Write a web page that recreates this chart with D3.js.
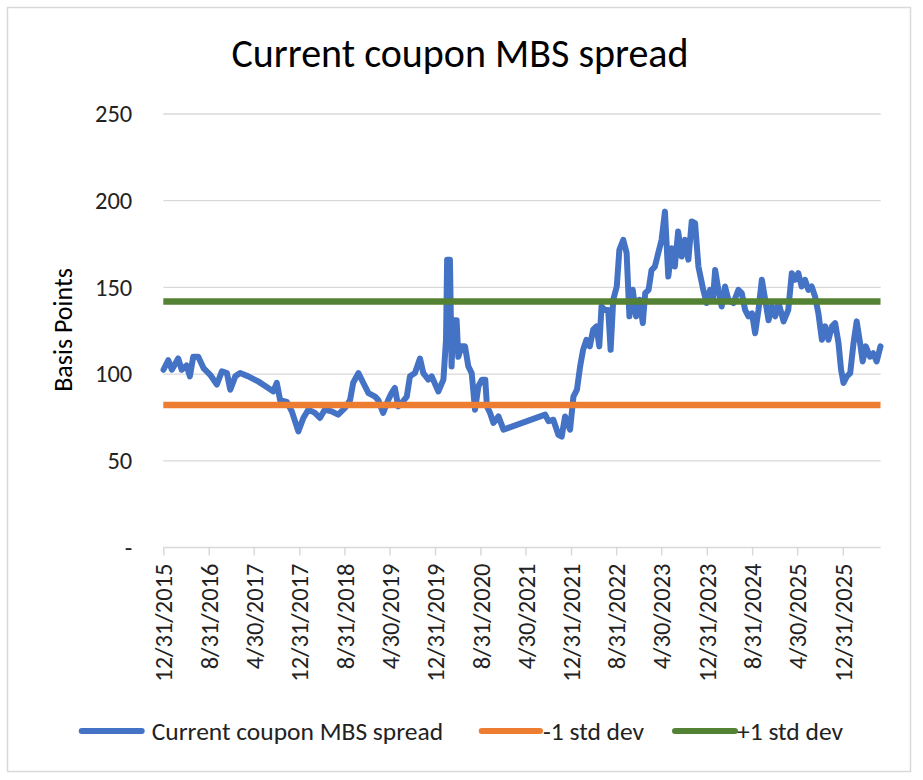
<!DOCTYPE html>
<html>
<head>
<meta charset="utf-8">
<script src="https://cdn.jsdelivr.net/npm/d3@7"></script>
<style>
  body { margin: 0; background: #fff; }
  text { font-family: Calibri, Lato, sans-serif; }
</style>
</head>
<body>
<svg id="chartSVG" width="923" height="780"></svg>
<script>
/**
 * Chart data
 */
const spreadDates = [
  "2016-01-01", "2016-01-27", "2016-02-15", "2016-03-20", "2016-04-08", "2016-05-04", "2016-05-22",
  "2016-06-09", "2016-07-06", "2016-08-03", "2016-09-08", "2016-10-14", "2016-11-10", "2016-12-07",
  "2016-12-25", "2017-01-21", "2017-02-16", "2017-04-01", "2017-05-24", "2017-07-17", "2017-08-14",
  "2017-09-01", "2017-09-19", "2017-10-25", "2017-11-21", "2017-12-26", "2018-01-22", "2018-02-18",
  "2018-03-25", "2018-04-21", "2018-05-17", "2018-06-23", "2018-07-28", "2018-09-03", "2018-09-30",
  "2018-10-17", "2018-11-14", "2018-12-10", "2019-01-07", "2019-02-12", "2019-03-01", "2019-03-27",
  "2019-04-23", "2019-05-11", "2019-05-29", "2019-06-16", "2019-07-04", "2019-08-01", "2019-08-18",
  "2019-09-14", "2019-10-11", "2019-10-29", "2019-11-25", "2019-12-13", "2020-01-18", "2020-02-14",
  "2020-02-28", "2020-03-05", "2020-03-20", "2020-03-29", "2020-04-07", "2020-04-25", "2020-05-04",
  "2020-05-22", "2020-06-09", "2020-06-27", "2020-07-15", "2020-08-02", "2020-08-20", "2020-09-08",
  "2020-09-26", "2020-10-05", "2020-10-22", "2020-11-09", "2020-12-06", "2021-01-02", "2021-08-14",
  "2021-09-01", "2021-09-27", "2021-10-24", "2021-11-11", "2021-11-29", "2021-12-26", "2022-01-13",
  "2022-02-01", "2022-02-18", "2022-03-06", "2022-03-24", "2022-04-11", "2022-04-29", "2022-05-17",
  "2022-06-01", "2022-06-13", "2022-07-01", "2022-07-19", "2022-08-01", "2022-08-15", "2022-09-03",
  "2022-09-17", "2022-10-08", "2022-10-26", "2022-11-10", "2022-11-28", "2022-12-16", "2023-01-03",
  "2023-01-21", "2023-02-03", "2023-02-21", "2023-03-09", "2023-03-27", "2023-04-14", "2023-05-02",
  "2023-05-20", "2023-06-07", "2023-06-25", "2023-07-12", "2023-07-30", "2023-08-18", "2023-09-05",
  "2023-09-23", "2023-10-11", "2023-10-29", "2023-11-16", "2023-12-12", "2023-12-30", "2024-01-18",
  "2024-02-02", "2024-02-14", "2024-03-02", "2024-03-20", "2024-04-07", "2024-04-25", "2024-05-22",
  "2024-06-18", "2024-07-06", "2024-07-24", "2024-08-11", "2024-08-30", "2024-09-16", "2024-10-04",
  "2024-10-22", "2024-11-09", "2024-11-27", "2024-12-15", "2025-01-02", "2025-01-20", "2025-02-16",
  "2025-03-13", "2025-04-01", "2025-04-18", "2025-05-06", "2025-05-24", "2025-06-11", "2025-06-29",
  "2025-07-17", "2025-08-04", "2025-08-22", "2025-09-10", "2025-09-28", "2025-10-15", "2025-11-03",
  "2025-11-20", "2025-12-08", "2025-12-22", "2026-01-04", "2026-01-22", "2026-02-09", "2026-02-27",
  "2026-03-16", "2026-04-03", "2026-04-17", "2026-05-04", "2026-05-26", "2026-06-13", "2026-07-01",
  "2026-07-22"
];
const spreadValues = [
  102.5, 108, 102.5, 109, 102.5, 105, 98.7,
  110, 110, 103.5, 99.6, 94, 101.6, 100.6,
  91, 98.7, 100.6, 98.7, 95.8, 92, 90,
  95, 85, 84, 78.5, 67, 74.7, 79.5,
  77.6, 74.7, 79.5, 78.5, 76.6, 80.5, 85,
  95, 100.6, 95, 89, 87, 85, 77.6,
  85, 89, 92, 81.4, 83.3, 87, 98.7,
  100.6, 109, 100.6, 96.8, 98.7, 90, 96.8,
  119.8, 166, 166, 104.4, 131, 131, 110,
  116, 116, 104.4, 100.6, 79.5, 93, 96.8,
  96.8, 81.4, 77.6, 71.8, 75.6, 68, 76.6,
  72.8, 73.7, 65, 64, 75.6, 68, 87,
  91, 104.4, 114, 119.8, 116, 125.6, 127.5,
  116, 139, 137, 137, 114, 142.9, 150.5,
  171.7, 177.4, 169.8, 133.3, 148.6, 133.3, 142.9,
  129.4, 146.7, 148.6, 160, 162, 169.8, 177.4,
  193.7, 156.3, 172.6, 162, 182.2, 167.8, 177.4,
  166, 188, 187, 162, 148.6, 141, 148.6,
  142.9, 160, 148.6, 139, 150.5, 142.9, 141,
  148.6, 146.7, 137, 133.3, 135, 123.6, 137,
  154.4, 142.9, 131, 139, 133.3, 141, 130.4,
  137, 158.2, 154.4, 158.2, 150.5, 154.4, 148.6,
  150.5, 144.8, 135, 119.8, 127.5, 119.8, 127.5,
  129.4, 118, 102.5, 94.9, 98.7, 100.6, 118,
  130.4, 118, 107.3, 116, 110, 112, 107.3,
  116
];
const minusOneStd = 82.2;
const plusOneStd = 141.8;

const yTickValues = [0, 50, 100, 150, 200, 250];
const xTickLabels = [
  "12/31/2015", "8/31/2016", "4/30/2017", "12/31/2017", "8/31/2018", "4/30/2019",
  "12/31/2019", "8/31/2020", "4/30/2021", "12/31/2021", "8/31/2022", "4/30/2023",
  "12/31/2023", "8/31/2024", "4/30/2025", "12/31/2025"
];
const axisStart = "2015-12-31";
const axisEnd = "2026-07-23";

const seriesNames = ["Current coupon MBS spread", "-1 std dev", "+1 std dev"];
const seriesColors = ["#4472C4", "#ED7D31", "#548235"];

/**
 * Layout
 */
const plot = { left: 163.3, right: 880.7, top: 114, bottom: 547.5 };
const tickFont = 24.5;
const parseDate = d3.timeParse("%Y-%m-%d");
const parseLabel = d3.timeParse("%m/%d/%Y");

const svg = d3.select("#chartSVG");

// outer border
svg.append("rect")
  .attr("x", 7.5).attr("y", 7.5)
  .attr("width", 903).attr("height", 764)
  .attr("fill", "#fff")
  .attr("stroke", "#d9d9d9")
  .attr("stroke-width", 1.5);

// scales
const x = d3.scaleTime()
  .domain([parseDate(axisStart), parseDate(axisEnd)])
  .range([plot.left, plot.right]);

const y = d3.scaleLinear()
  .domain([0, 250])
  .range([plot.bottom, plot.top]);

// gridlines
svg.append("g")
  .selectAll("line")
  .data(yTickValues.filter(d => d > 0))
  .join("line")
  .attr("x1", plot.left).attr("x2", plot.right)
  .attr("y1", d => y(d)).attr("y2", d => y(d))
  .attr("stroke", "#d9d9d9")
  .attr("stroke-width", 1.3);

// y axis labels
const yAxis = d3.axisLeft(y)
  .tickValues(yTickValues)
  .tickSize(0)
  .tickPadding(0)
  .tickFormat(d => d === 0 ? "-" : d);

const yAxisGroup = svg.append("g")
  .attr("transform", `translate(${plot.left - 31},0)`)
  .call(yAxis);
yAxisGroup.select(".domain").remove();
yAxisGroup.selectAll("text")
  .attr("font-size", tickFont)
  .attr("fill", "#222")
  .style("font-family", "Calibri, Lato, sans-serif");

// x axis
const xAxis = d3.axisBottom(x)
  .tickValues(xTickLabels.map(parseLabel))
  .tickSize(8)
  .tickFormat((d, i) => xTickLabels[i]);

const xAxisGroup = svg.append("g")
  .attr("transform", `translate(0,${plot.bottom})`)
  .call(xAxis);
xAxisGroup.select(".domain")
  .attr("d", `M${plot.left},0H${plot.right}`)
  .attr("stroke", "#d9d9d9")
  .attr("stroke-width", 1.5);
xAxisGroup.selectAll(".tick line")
  .attr("stroke", "#d9d9d9")
  .attr("stroke-width", 1.5);
xAxisGroup.selectAll(".tick text")
  .attr("transform", "rotate(-90)")
  .attr("x", -16)
  .attr("y", 0)
  .attr("dy", "0.35em")
  .attr("text-anchor", "end")
  .attr("font-size", tickFont)
  .attr("fill", "#222")
  .style("font-family", "Calibri, Lato, sans-serif");

// y axis title
svg.append("text")
  .attr("transform", "translate(72,330) rotate(-90)")
  .attr("text-anchor", "middle")
  .attr("font-size", 26)
  .attr("fill", "#000")
  .text("Basis Points");

// chart title
svg.append("text")
  .attr("x", 460)
  .attr("y", 66.7)
  .attr("text-anchor", "middle")
  .attr("font-size", 40)
  .attr("fill", "#000")
  .text("Current coupon MBS spread");

// spread line
const spreadData = spreadDates.map((d, i) => ({ date: parseDate(d), value: spreadValues[i] }));

const line = d3.line()
  .x(d => x(d.date))
  .y(d => y(d.value));

svg.append("path")
  .datum(spreadData)
  .attr("d", line)
  .attr("fill", "none")
  .attr("stroke", seriesColors[0])
  .attr("stroke-width", 6)
  .attr("stroke-linejoin", "round")
  .attr("stroke-linecap", "round");

// std dev lines
const lastDate = spreadData[spreadData.length - 1].date;
[minusOneStd, plusOneStd].forEach((v, i) => {
  svg.append("path")
    .datum([{ date: parseDate(axisStart), value: v }, { date: lastDate, value: v }])
    .attr("d", line)
    .attr("fill", "none")
    .attr("stroke", seriesColors[i + 1])
    .attr("stroke-width", 6.5);
});

// legend
const legendItems = [
  { name: seriesNames[0], color: seriesColors[0], x1: 81.7, x2: 141.7, tx: 151.7 },
  { name: seriesNames[1], color: seriesColors[1], x1: 481.7, x2: 540, tx: 543 },
  { name: seriesNames[2], color: seriesColors[2], x1: 675, x2: 735, tx: 737 }
];
const legend = svg.append("g");
legendItems.forEach(item => {
  legend.append("line")
    .attr("x1", item.x1).attr("x2", item.x2)
    .attr("y1", 731).attr("y2", 731)
    .attr("stroke", item.color)
    .attr("stroke-width", 6)
    .attr("stroke-linecap", "round");
  legend.append("text")
    .attr("x", item.tx)
    .attr("y", 740)
    .attr("font-size", 25.5)
    .attr("fill", "#222")
    .text(item.name);
});
</script>
</body>
</html>
